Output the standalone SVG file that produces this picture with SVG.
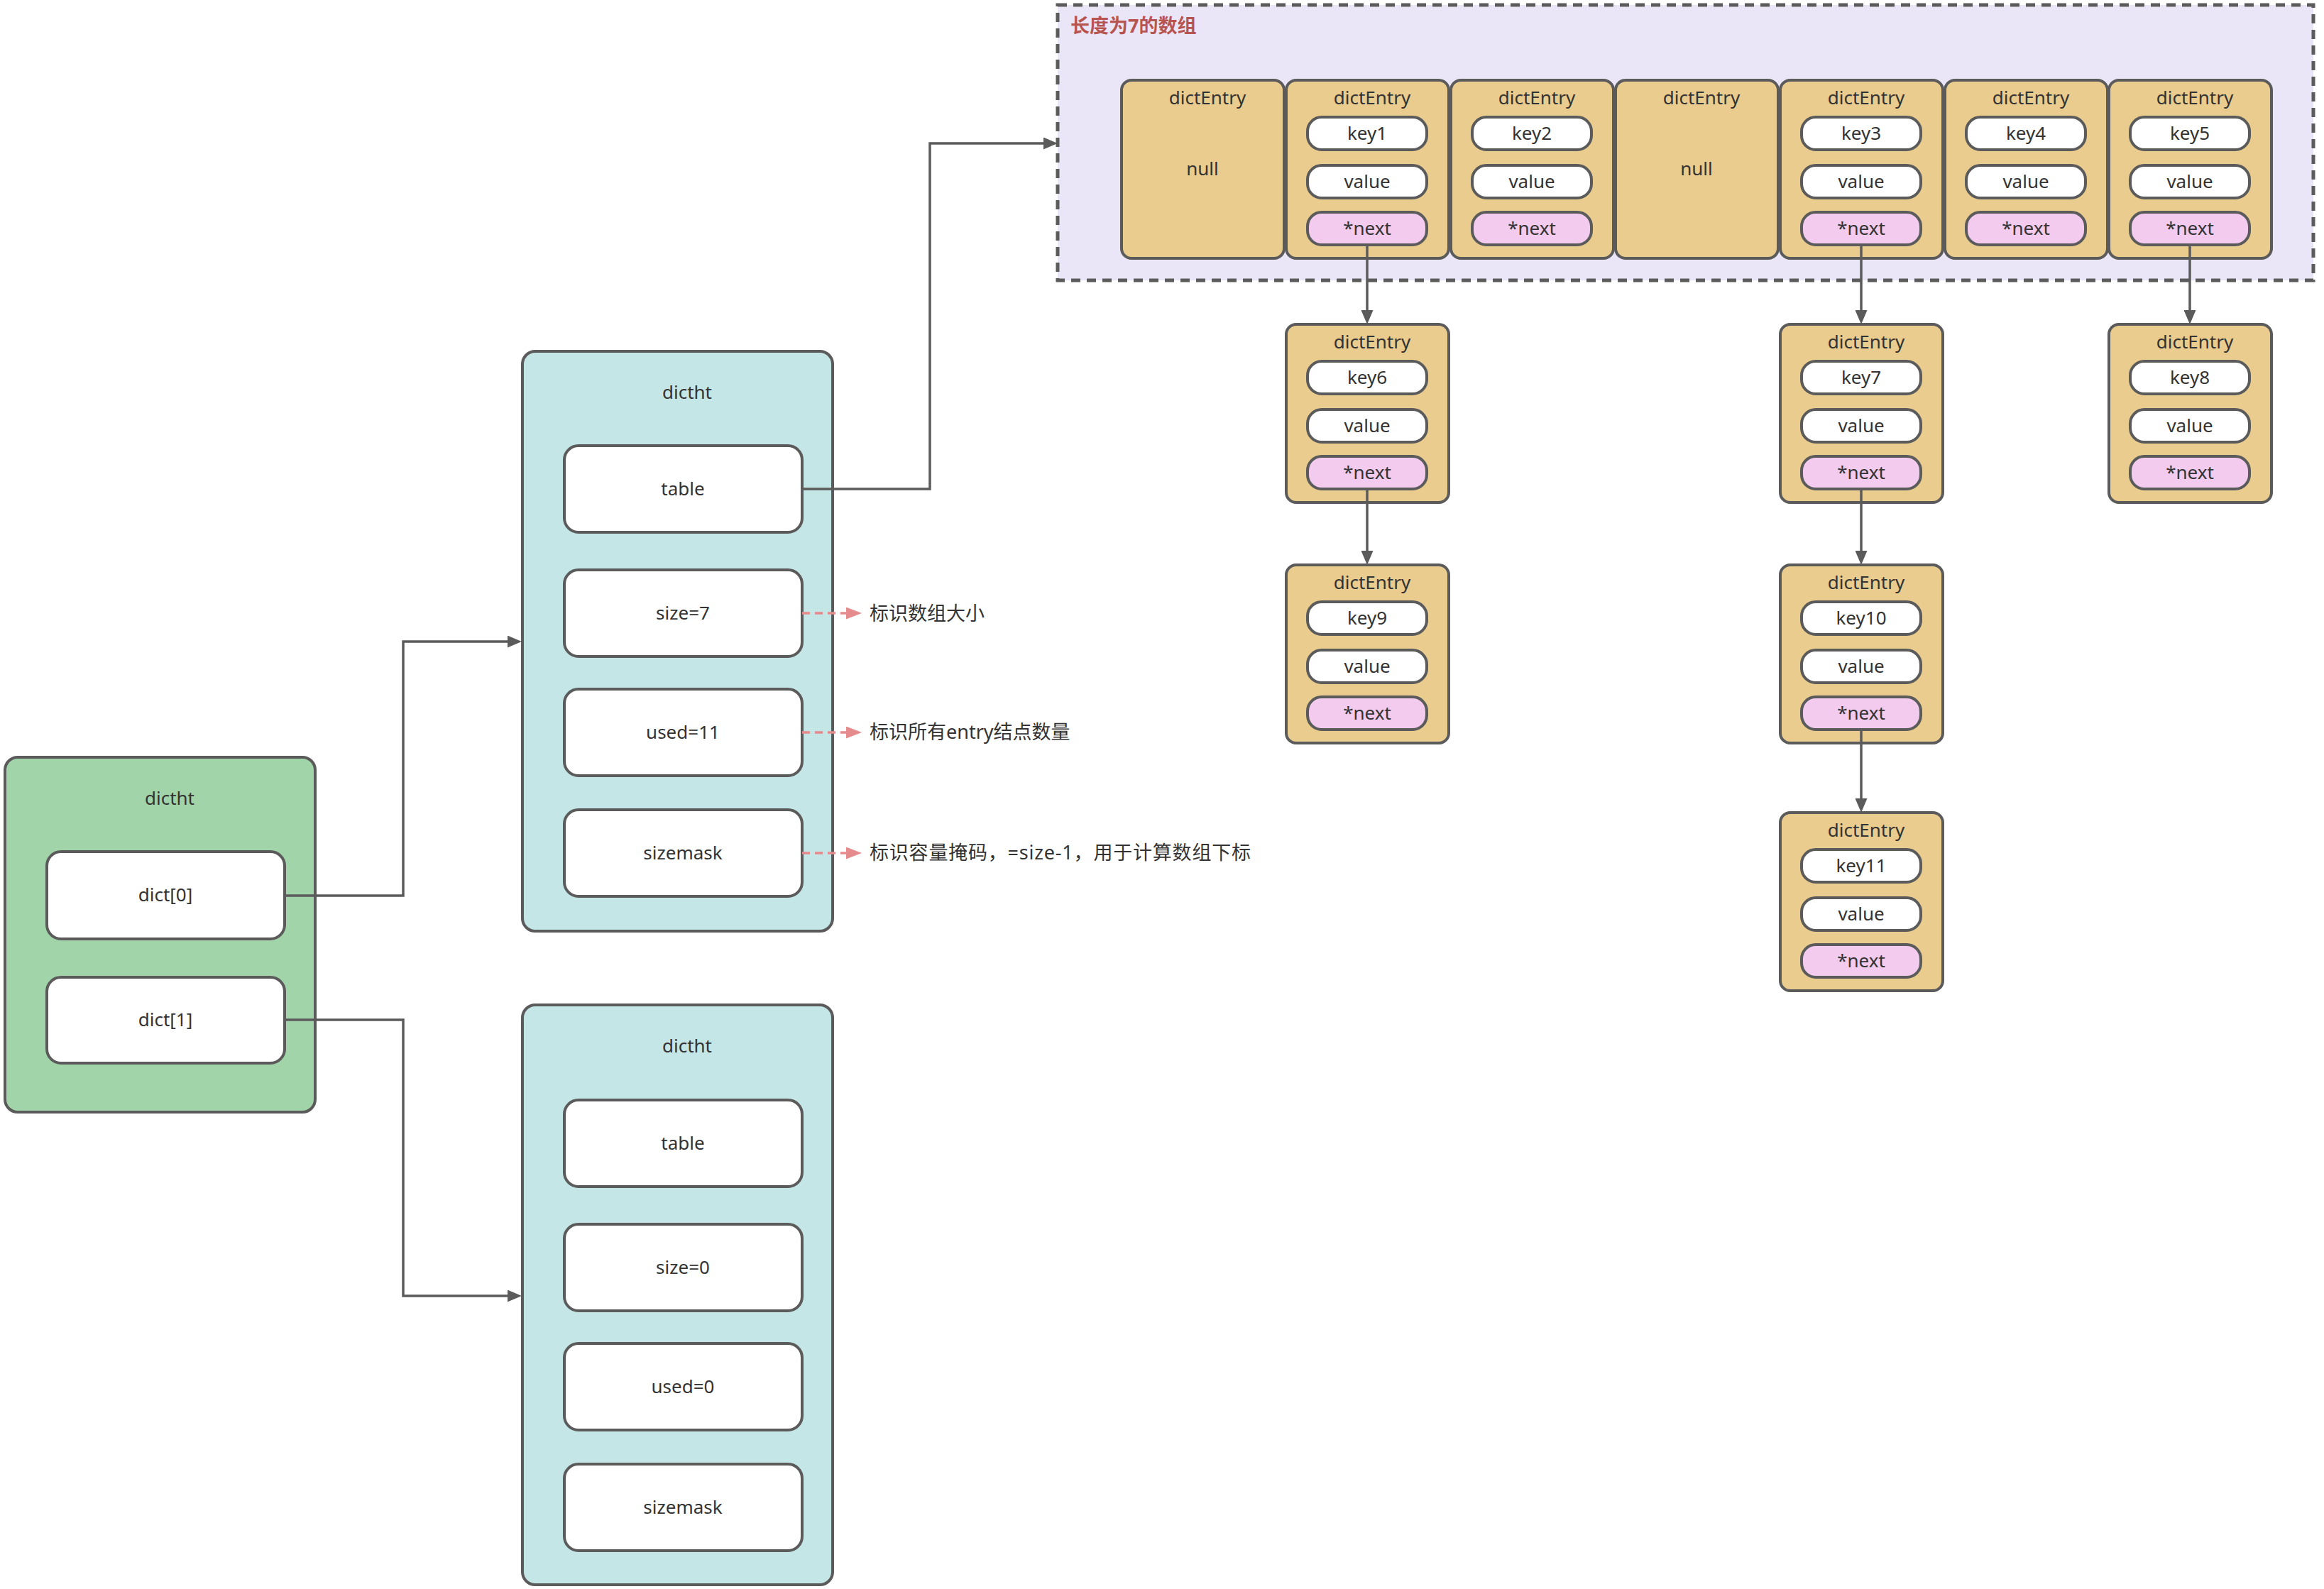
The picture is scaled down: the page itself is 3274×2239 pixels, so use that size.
<svg xmlns="http://www.w3.org/2000/svg" width="3274" height="2239" viewBox="0 0 3274 2239">
<defs>
<style>
text{font-family:"Noto Sans","Noto Sans CJK SC",sans-serif;fill:#333;font-size:26px}
.c{text-anchor:middle}
.ent{fill:#e9cc8e;stroke:#5b5b5b;stroke-width:4}
.w{fill:#fff;stroke:#5b5b5b;stroke-width:4}
.nx{fill:#f2cbee;stroke:#5b5b5b;stroke-width:4}
.teal{fill:#c5e6e6;stroke:#5b5b5b;stroke-width:4}
.green{fill:#a2d4a9;stroke:#5b5b5b;stroke-width:4}
.ln{fill:none;stroke:#5b5b5b;stroke-width:3.5}
.pk{fill:none;stroke:#e58a8d;stroke-width:3.5;stroke-dasharray:11 7}
.ann{font-size:27px}
</style>
<marker id="ar" markerUnits="userSpaceOnUse" markerWidth="20" markerHeight="17" refX="10" refY="8.5" orient="auto"><path d="M0,0 L20,8.5 L0,17 z" fill="#5b5b5b"/></marker>
<marker id="arp" markerUnits="userSpaceOnUse" markerWidth="22" markerHeight="17" refX="10" refY="8.5" orient="auto"><path d="M0,0 L22,8.5 L0,17 z" fill="#e58a8d"/></marker>
<g id="entry">
<rect class="ent" x="0" y="0" width="229" height="251" rx="14"/>
<text class="c" x="121" y="34">dictEntry</text>
<rect class="w" x="30" y="52" width="168" height="46" rx="20"/>
<rect class="w" x="30" y="120" width="168" height="46" rx="20"/>
<rect class="nx" x="30" y="186" width="168" height="46" rx="20"/>
<text class="c" x="114" y="152">value</text>
<text class="c" x="114" y="218">*next</text>
</g>
<g id="nullentry">
<rect class="ent" x="0" y="0" width="229" height="251" rx="14"/>
<text class="c" x="121" y="34">dictEntry</text>
<text class="c" x="114" y="134">null</text>
</g>
</defs>
<rect width="3274" height="2239" fill="#fff"/>

<g id="array">
<rect x="1490" y="7" width="1769" height="388" fill="#eae6f7" stroke="#5b5b5b" stroke-width="5" stroke-dasharray="13 9"/>
<text x="1508" y="46" style="font-size:27px;font-weight:bold;fill:#b85450">长度为7的数组</text>
</g>

<g id="e0" transform="translate(1580,113)"><use href="#nullentry"/></g>
<g id="e1" transform="translate(1812,113)"><use href="#entry"/><text class="c" x="114" y="84">key1</text></g>
<g id="e2" transform="translate(2044,113)"><use href="#entry"/><text class="c" x="114" y="84">key2</text></g>
<g id="e3" transform="translate(2276,113)"><use href="#nullentry"/></g>
<g id="e4" transform="translate(2508,113)"><use href="#entry"/><text class="c" x="114" y="84">key3</text></g>
<g id="e5" transform="translate(2740,113)"><use href="#entry"/><text class="c" x="114" y="84">key4</text></g>
<g id="e6" transform="translate(2971,113)"><use href="#entry"/><text class="c" x="114" y="84">key5</text></g>

<g id="e_key6" transform="translate(1812,457)"><use href="#entry"/><text class="c" x="114" y="84">key6</text></g>
<g id="e_key7" transform="translate(2508,457)"><use href="#entry"/><text class="c" x="114" y="84">key7</text></g>
<g id="e_key8" transform="translate(2971,457)"><use href="#entry"/><text class="c" x="114" y="84">key8</text></g>
<g id="e_key9" transform="translate(1812,796)"><use href="#entry"/><text class="c" x="114" y="84">key9</text></g>
<g id="e_key10" transform="translate(2508,796)"><use href="#entry"/><text class="c" x="114" y="84">key10</text></g>
<g id="e_key11" transform="translate(2508,1145)"><use href="#entry"/><text class="c" x="114" y="84">key11</text></g>

<g id="dict">
<rect class="green" x="7" y="1067" width="437" height="500" rx="18"/>
<text class="c" x="239" y="1134">dictht</text>
<rect class="w" x="66" y="1200" width="335" height="123" rx="20"/>
<text class="c" x="233" y="1270">dict[0]</text>
<rect class="w" x="66" y="1377" width="335" height="121" rx="20"/>
<text class="c" x="233" y="1446">dict[1]</text>
</g>

<g id="dictht0">
<rect class="teal" x="736" y="495" width="437" height="817" rx="18"/>
<text class="c" x="968" y="562">dictht</text>
<rect class="w" x="795" y="628" width="335" height="122" rx="20"/>
<text class="c" x="962" y="698">table</text>
<rect class="w" x="795" y="803" width="335" height="122" rx="20"/>
<text class="c" x="962" y="873">size=7</text>
<rect class="w" x="795" y="971" width="335" height="122" rx="20"/>
<text class="c" x="962" y="1041">used=11</text>
<rect class="w" x="795" y="1141" width="335" height="122" rx="20"/>
<text class="c" x="962" y="1211">sizemask</text>
</g>

<g id="dictht1">
<rect class="teal" x="736" y="1416" width="437" height="817" rx="18"/>
<text class="c" x="968" y="1483">dictht</text>
<rect class="w" x="795" y="1550" width="335" height="122" rx="20"/>
<text class="c" x="962" y="1620">table</text>
<rect class="w" x="795" y="1725" width="335" height="122" rx="20"/>
<text class="c" x="962" y="1795">size=0</text>
<rect class="w" x="795" y="1893" width="335" height="122" rx="20"/>
<text class="c" x="962" y="1963">used=0</text>
<rect class="w" x="795" y="2063" width="335" height="122" rx="20"/>
<text class="c" x="962" y="2133">sizemask</text>
</g>

<g id="notes">
<text class="ann" x="1225" y="874">标识数组大小</text>
<text class="ann" x="1225" y="1041">标识所有entry结点数量</text>
<text class="ann" x="1225" y="1211" textLength="537" lengthAdjust="spacing">标识容量掩码，=size-1，用于计算数组下标</text>
</g>

<g id="connectors">
<path class="ln" d="M401,1262 H568 V904 H725" marker-end="url(#ar)"/>
<path class="ln" d="M401,1437 H568 V1826 H725" marker-end="url(#ar)"/>
<path class="ln" d="M1130,689 H1310 V202 H1480" marker-end="url(#ar)"/>
<path class="ln" d="M1926,345 V447" marker-end="url(#ar)"/>
<path class="ln" d="M2622,345 V447" marker-end="url(#ar)"/>
<path class="ln" d="M3085,345 V447" marker-end="url(#ar)"/>
<path class="ln" d="M1926,689 V786" marker-end="url(#ar)"/>
<path class="ln" d="M2622,689 V786" marker-end="url(#ar)"/>
<path class="ln" d="M2622,1028 V1135" marker-end="url(#ar)"/>
<path class="pk" d="M1130,864 H1202" marker-end="url(#arp)"/>
<path class="pk" d="M1130,1032 H1202" marker-end="url(#arp)"/>
<path class="pk" d="M1130,1202 H1202" marker-end="url(#arp)"/>
</g>
</svg>
